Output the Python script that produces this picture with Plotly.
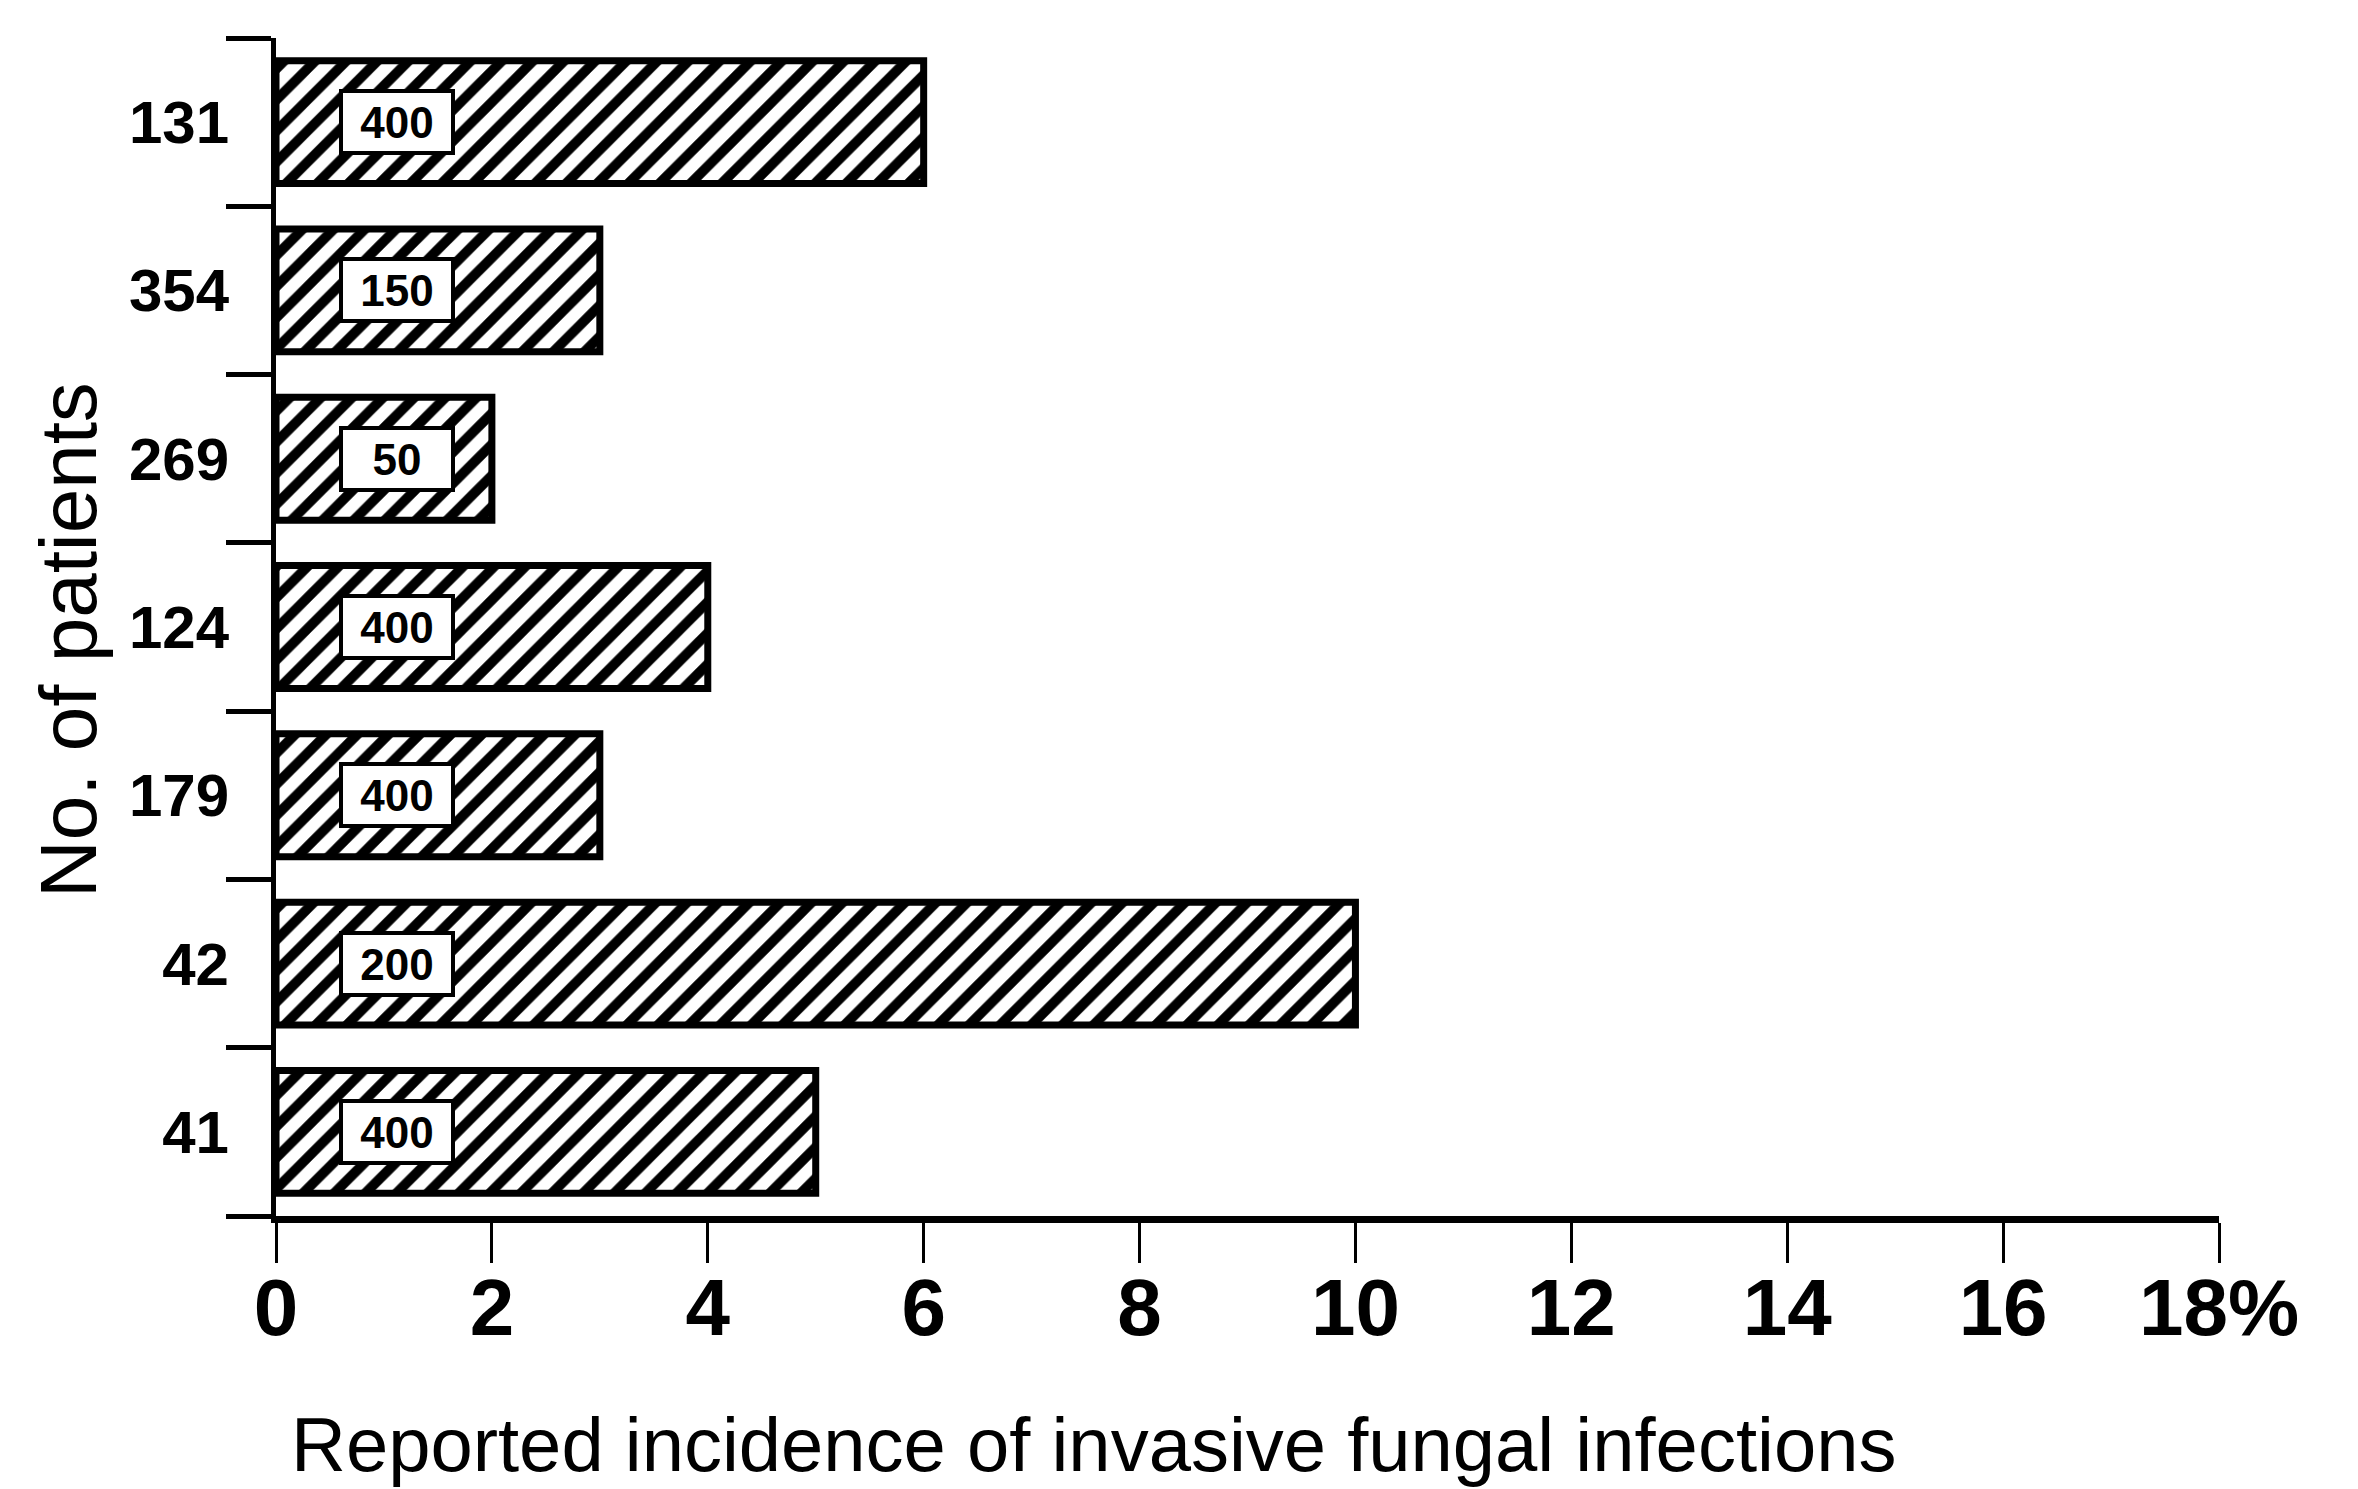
import plotly.graph_objects as go

# Data (bottom to top as drawn)
patients = ["41", "42", "179", "124", "269", "354", "131"]
incidence = [5, 10, 3, 4, 2, 3, 6]
doses = ["400", "200", "400", "400", "50", "150", "400"]
x_ticks = [0, 2, 4, 6, 8, 10, 12, 14, 16, 18]
x_ticktext = ["0", "2", "4", "6", "8", "10", "12", "14", "16", "18%"]

W, H = 2358, 1489
L, R, T, B = 268, 147, 30, 281

fig = go.Figure()
fig.add_trace(go.Bar(
    y=patients, x=incidence, orientation="h",
    marker=dict(
        color="white",
        line=dict(color="black", width=7),
        pattern=dict(shape="/", fgcolor="black", bgcolor="white",
                     size=22, solidity=0.45, fillmode="replace"),
    ),
    showlegend=False, hoverinfo="skip",
))

for i, d in enumerate(doses):
    fig.add_annotation(
        x=1.12, y=i, xref="x", yref="y", text="<b>%s</b>" % d,
        showarrow=False, font=dict(family="Liberation Sans", size=44, color="black"),
        bgcolor="white", bordercolor="black", borderwidth=4, borderpad=2,
        width=104, height=54, align="center", valign="middle",
    )

fig.add_annotation(
    x=(1085 - L) / (W - L - R), y=(H - B - 1436) / (H - T - B), xref="paper", yref="paper",
    text="Reported incidence of invasive fungal infections", showarrow=False,
    font=dict(family="Liberation Sans", size=76, color="black"),
    xanchor="center", yanchor="middle",
)
fig.add_annotation(
    x=(60 - L) / (W - L - R), y=(H - B - 632) / (H - T - B), xref="paper", yref="paper",
    text="No. of patients", showarrow=False, textangle=-90,
    font=dict(family="Liberation Sans", size=80, color="black"),
    xanchor="center", yanchor="middle",
)

fig.update_layout(
    width=W, height=H,
    margin=dict(l=L, r=R, t=T, b=B),
    paper_bgcolor="white", plot_bgcolor="white",
    bargap=0.27,
    xaxis=dict(
        range=[0, 18], tickvals=x_ticks, ticktext=["<b>%s</b>" % t for t in x_ticktext],
        showgrid=False, zeroline=False, showline=True, linecolor="black", linewidth=7,
        ticks="outside", ticklen=40, tickwidth=3, tickcolor="black",
        tickfont=dict(family="Liberation Sans", size=80, color="black"),
        ticklabelstandoff=-24,
    ),
    yaxis=dict(
        type="category", categoryorder="array", categoryarray=patients,
        range=[-0.5, 6.5], tickson="boundaries",
        showgrid=False, zeroline=False, showline=True, linecolor="black", linewidth=5,
        ticks="outside", ticklen=45, tickwidth=5, tickcolor="black",
        tickfont=dict(family="Liberation Sans", size=60, color="black"),
        tickprefix="<b>", ticksuffix="</b>", ticklabelstandoff=30,
    ),
)

fig.write_html("out.html")
